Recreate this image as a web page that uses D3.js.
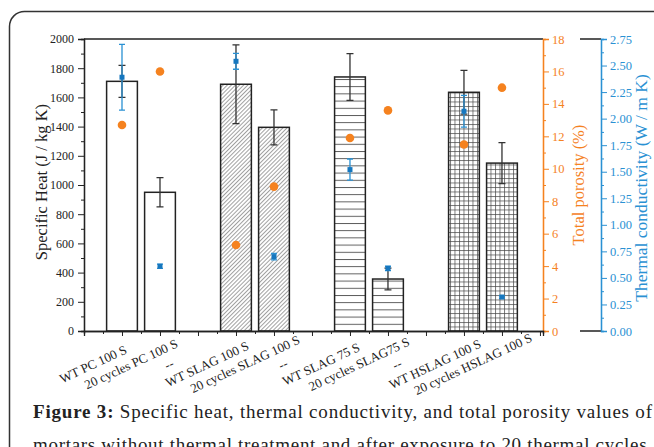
<!DOCTYPE html>
<html>
<head>
<meta charset="utf-8">
<script src="https://cdn.jsdelivr.net/npm/d3@7"></script>
<style>
  html, body { margin: 0; padding: 0; background: #fff; }
  svg { display: block; }
</style>
</head>
<body>
<svg id="chart" width="654" height="447"></svg>
<script>
(function() {
  'use strict';

  // values, one entry per x slot ("--" slots are empty)
  var categories = ['WT PC 100 S', '20 cycles PC 100 S', '--', 'WT SLAG 100 S', '20 cycles SLAG 100 S', '--',
    'WT SLAG 75 S', '20 cycles SLAG75 S', '--', 'WT HSLAG 100 S', '20 cycles HSLAG 100 S'];
  var specificHeat = [1710, 950, null, 1690, 1395, null, 1740, 356, null, 1635, 1150];
  var specificHeatErr = [110, 100, null, 270, 120, null, 160, 75, null, 150, 140];
  var porosity = [12.7, 16.0, null, 5.3, 8.9, null, 11.9, 13.6, null, 11.5, 15.0];
  var conductivity = [2.39, 0.61, null, 2.54, 0.70, null, 1.52, 0.59, null, 2.07, 0.32];
  var conductivityErr = [0.31, 0.02, null, 0.075, 0.03, null, 0.10, 0.02, null, 0.15, 0.012];
  var heatTicks = d3.range(0, 2001, 200);
  var porosityTicks = d3.range(0, 19, 2);
  var conductivityTicks = d3.range(0, 2.76, 0.25);
  var caption = ['Specific heat, thermal conductivity, and total porosity values of',
    'mortars without thermal treatment and after exposure to 20 thermal cycles.'];

  var serif = '"Liberation Serif", "Times New Roman", Times, serif';
  var orange = '#f5821f';
  var blue = '#2a91d3';
  var ink = '#222';

  var svg = d3.select('#chart').style('font-family', serif);
  var left = 84, right = 543, top = 39, bottom = 331, blueAxisX = 601;

  var x = d3.scaleLinear().domain([0, 12.08]).range([left, right]);
  var y = d3.scaleLinear().domain([0, 2000]).range([bottom, top]);
  var yP = d3.scaleLinear().domain([0, 18]).range([bottom, top]);
  var yC = d3.scaleLinear().domain([0, 2.75]).range([bottom, top]);
  var barW = x(0.81) - x(0);

  // outer rounded frame of the figure box
  svg.append('rect')
    .attr('x', 9.5).attr('y', 11.5).attr('width', 700).attr('height', 500)
    .attr('rx', 15).attr('fill', 'none').attr('stroke', '#333').attr('stroke-width', 1.5);

  // fill patterns per group
  var defs = svg.append('defs');
  var diag = defs.append('pattern').attr('id', 'diag').attr('patternUnits', 'userSpaceOnUse')
    .attr('width', 2.9).attr('height', 8).attr('patternTransform', 'rotate(45)');
  diag.append('line').attr('x1', 0.5).attr('x2', 0.5).attr('y1', 0).attr('y2', 8)
    .attr('stroke', '#888').attr('stroke-width', 0.8);
  var horiz = defs.append('pattern').attr('id', 'horiz').attr('patternUnits', 'userSpaceOnUse')
    .attr('width', 10).attr('height', 7.2).attr('y', bottom);
  horiz.append('line').attr('x1', 0).attr('x2', 10).attr('y1', 0.5).attr('y2', 0.5)
    .attr('stroke', '#444').attr('stroke-width', 0.9);
  var grid = defs.append('pattern').attr('id', 'grid').attr('patternUnits', 'userSpaceOnUse')
    .attr('width', 4.5).attr('height', 4.5).attr('y', bottom);
  grid.append('path').attr('d', 'M0,0.5H4.5M0.5,0V4.5')
    .attr('fill', 'none').attr('stroke', '#444').attr('stroke-width', 0.7);
  var fills = ['#fff', '#fff', null, 'url(#diag)', 'url(#diag)', null,
    'url(#horiz)', 'url(#horiz)', null, 'url(#grid)', 'url(#grid)'];

  var rows = categories.map(function(c, i) {
    return {
      name: c, pos: i + 1, heat: specificHeat[i], heatErr: specificHeatErr[i],
      por: porosity[i], cond: conductivity[i], condErr: conductivityErr[i], fill: fills[i]
    };
  });
  var filled = rows.filter(function(d) { return d.heat !== null; });

  // bars
  svg.append('g').selectAll('rect').data(filled).enter().append('rect')
    .attr('x', function(d) { return x(d.pos) - barW / 2; })
    .attr('y', function(d) { return y(d.heat); })
    .attr('width', barW)
    .attr('height', function(d) { return bottom - y(d.heat); })
    .attr('fill', function(d) { return d.fill; })
    .attr('stroke', ink).attr('stroke-width', 1.5);

  var errorBars = function(g, scale, val, err, cap, color) {
    g.selectAll('path').data(filled).enter().append('path')
      .attr('d', function(d) {
        var cx = x(d.pos), hi = scale(d[val] + d[err]), lo = scale(d[val] - d[err]);
        return 'M' + (cx - cap) + ',' + hi + 'H' + (cx + cap) +
          'M' + cx + ',' + hi + 'V' + lo +
          'M' + (cx - cap) + ',' + lo + 'H' + (cx + cap);
      })
      .attr('fill', 'none').attr('stroke', color).attr('stroke-width', 1.3);
  };

  svg.append('g').call(errorBars, y, 'heat', 'heatErr', 3.5, '#333');

  svg.append('g').selectAll('circle').data(filled).enter().append('circle')
    .attr('cx', function(d) { return x(d.pos); })
    .attr('cy', function(d) { return yP(d.por); })
    .attr('r', 4.3).attr('fill', orange);

  svg.append('g').call(errorBars, yC, 'cond', 'condErr', 3, blue);
  svg.append('g').selectAll('rect').data(filled).enter().append('rect')
    .attr('x', function(d) { return x(d.pos) - 2.5; })
    .attr('y', function(d) { return yC(d.cond) - 2.5; })
    .attr('width', 5).attr('height', 5).attr('fill', '#1677bf');

  // frame top line + layer frame stubs next to the conductivity axis
  svg.append('path')
    .attr('d', 'M' + left + ',' + top + 'H' + right +
      'M580,' + top + 'H' + blueAxisX + 'M580,' + bottom + 'H' + blueAxisX)
    .attr('stroke', ink).attr('stroke-width', 1.3);

  var styleAxis = function(g, color, size) {
    g.attr('font-family', null).style('font-family', serif);
    g.select('.domain').attr('stroke', color).attr('stroke-width', 1.3);
    g.selectAll('.tick line').attr('stroke', color).attr('stroke-width', 1);
    g.selectAll('.tick text').attr('fill', color).attr('font-size', size)
      .style('font-family', serif);
  };

  // left axis: minor ticks then major ticks with labels
  svg.append('g').attr('transform', 'translate(' + left + ',0)')
    .call(d3.axisLeft(y).tickValues(d3.range(100, 2000, 200)).tickSize(3).tickFormat(''))
    .call(styleAxis, ink, 12);
  svg.append('g').attr('transform', 'translate(' + left + ',0)')
    .call(d3.axisLeft(y).tickValues(heatTicks).tickSize(6).tickPadding(4).tickFormat(d3.format('d')))
    .call(styleAxis, ink, 12);

  // porosity axis
  svg.append('g').attr('transform', 'translate(' + right + ',0)')
    .call(d3.axisRight(yP).tickValues(d3.range(1, 18, 2)).tickSize(3).tickFormat(''))
    .call(styleAxis, orange, 12);
  svg.append('g').attr('transform', 'translate(' + right + ',0)')
    .call(d3.axisRight(yP).tickValues(porosityTicks).tickSize(6).tickPadding(3).tickFormat(d3.format('d')))
    .call(styleAxis, orange, 12.5);

  // conductivity axis
  svg.append('g').attr('transform', 'translate(' + blueAxisX + ',0)')
    .call(d3.axisRight(yC).tickValues(d3.range(0.125, 2.75, 0.25)).tickSize(3).tickFormat(''))
    .call(styleAxis, blue, 12);
  svg.append('g').attr('transform', 'translate(' + blueAxisX + ',0)')
    .call(d3.axisRight(yC).tickValues(conductivityTicks).tickSize(6).tickPadding(3)
      .tickFormat(d3.format('.2f')))
    .call(styleAxis, blue, 12.5);

  // x axis
  svg.append('g').attr('transform', 'translate(0,' + bottom + ')')
    .call(d3.axisBottom(x).tickValues(d3.range(0.5, 12, 1)).tickSize(3).tickFormat(''))
    .call(styleAxis, ink, 12);
  svg.append('g').attr('transform', 'translate(0,' + bottom + ')')
    .call(d3.axisBottom(x).tickValues(d3.range(0, 13, 1)).tickSize(5).tickFormat(''))
    .call(styleAxis, ink, 12);

  svg.append('g').selectAll('text').data(rows).enter().append('text')
    .attr('transform', function(d) {
      return 'translate(' + (x(d.pos) - 29) + ',364) rotate(-25)';
    })
    .attr('text-anchor', 'middle').attr('dy', '0.35em')
    .attr('font-size', 13).attr('fill', ink)
    .text(function(d) { return d.name; });

  // axis titles
  var title = function(tx, ty, label, color, size) {
    svg.append('text')
      .attr('transform', 'translate(' + tx + ',' + ty + ') rotate(-90)')
      .attr('text-anchor', 'middle').attr('dy', '0.35em')
      .attr('font-size', size).attr('fill', color).text(label);
  };
  title(41, 182, 'Specific Heat (J / kg K)', ink, 16.5);
  title(578, 185, 'Total porosity (%)', orange, 16.5);
  title(641, 188, 'Thermal conductivity (W / m K)', blue, 17.5);

  // caption
  var cap1 = svg.append('text')
    .attr('x', 33).attr('y', 418).attr('font-size', 19).attr('fill', '#222')
    .attr('textLength', 619).attr('lengthAdjust', 'spacing');
  cap1.append('tspan').attr('font-weight', 'bold').text('Figure 3:');
  cap1.append('tspan').text(' ' + caption[0]);
  svg.append('text')
    .attr('x', 33).attr('y', 451).attr('font-size', 19).attr('fill', '#222')
    .attr('textLength', 619).attr('lengthAdjust', 'spacing')
    .text(caption[1]);
}).call(this);
</script>
</body>
</html>
